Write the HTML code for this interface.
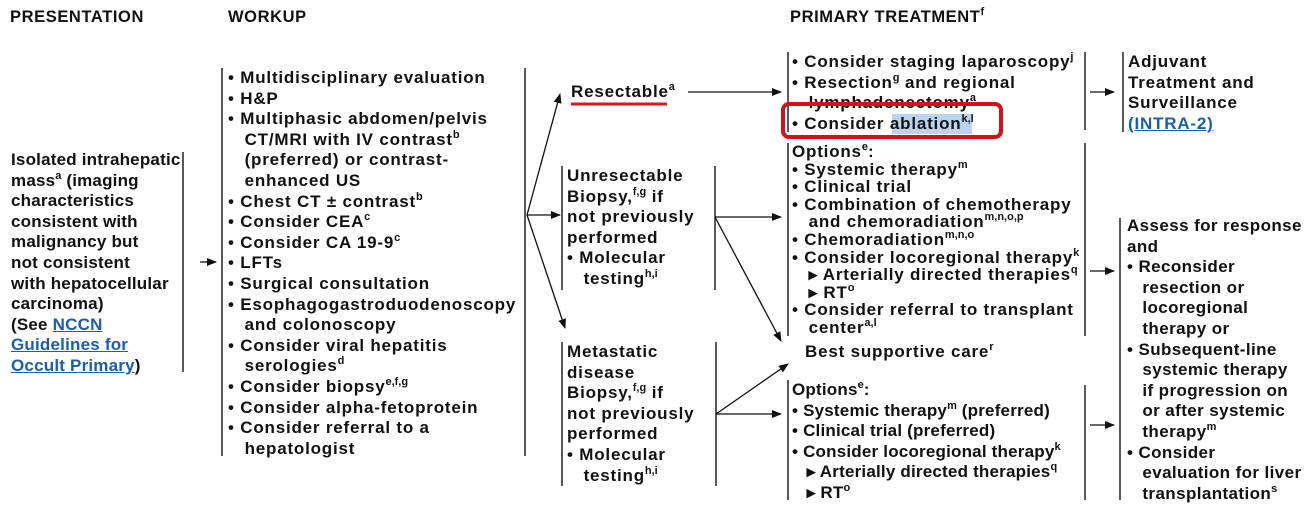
<!DOCTYPE html>
<html><head><meta charset="utf-8"><style>
body{margin:0;width:1316px;height:509px;background:#fff;position:relative;overflow:hidden;font-family:"Liberation Sans",Arial,sans-serif;font-weight:bold;color:#111}
.t{position:absolute;font-size:17px;line-height:20.6px;white-space:nowrap;letter-spacing:0.8px}
.h{position:absolute;font-size:16.5px;letter-spacing:0.6px;top:8px}
sup{font-size:11px;line-height:0;vertical-align:baseline;position:relative;top:-7px;letter-spacing:0}
a{color:#1a5fa8;text-decoration:underline}
svg{position:absolute;left:0;top:0}
</style></head><body>
<div class="h" style="left:10px">PRESENTATION</div>
<div class="h" style="left:228px">WORKUP</div>
<div class="h" style="left:790px">PRIMARY TREATMENT<sup>f</sup></div>

<div class="t" style="left:11px;top:150px;letter-spacing:0.2px">Isolated intrahepatic<br>mass<sup>a</sup> (imaging<br>characteristics<br>consistent with<br>malignancy but<br>not consistent<br>with hepatocellular<br>carcinoma)<br>(See <a>NCCN </a><br><a>Guidelines for </a><br><a>Occult Primary</a>)</div>

<div class="t" style="left:228px;top:68px">• Multidisciplinary evaluation<br>• H&amp;P<br>• Multiphasic abdomen/pelvis<br>&nbsp;&nbsp;&nbsp;CT/MRI with IV contrast<sup>b</sup><br>&nbsp;&nbsp;&nbsp;(preferred) or contrast-<br>&nbsp;&nbsp;&nbsp;enhanced US<br>• Chest CT ± contrast<sup>b</sup><br>• Consider CEA<sup>c</sup><br>• Consider CA 19-9<sup>c</sup><br>• LFTs<br>• Surgical consultation<br>• Esophagogastroduodenoscopy<br>&nbsp;&nbsp;&nbsp;and colonoscopy<br>• Consider viral hepatitis<br>&nbsp;&nbsp;&nbsp;serologies<sup>d</sup><br>• Consider biopsy<sup>e,f,g</sup><br>• Consider alpha-fetoprotein<br>• Consider referral to a<br>&nbsp;&nbsp;&nbsp;hepatologist</div>

<div class="t" style="left:571px;top:82px">Resectable<sup>a</sup></div>
<div class="t" style="left:567px;top:166px">Unresectable<br>Biopsy,<sup>f,g</sup> if<br>not previously<br>performed<br>• Molecular<br>&nbsp;&nbsp;&nbsp;testing<sup>h,i</sup></div>
<div class="t" style="left:567px;top:342px">Metastatic<br>disease<br>Biopsy,<sup>f,g</sup> if<br>not previously<br>performed<br>• Molecular<br>&nbsp;&nbsp;&nbsp;testing<sup>h,i</sup></div>

<div style="position:absolute;left:892px;top:114px;width:80px;height:20px;background:#b9d4ee"></div>
<div class="t" style="left:792px;top:52px">• Consider staging laparoscopy<sup>j</sup><br>• Resection<sup>g</sup> and regional<br>&nbsp;&nbsp;&nbsp;lymphadenectomy<sup>a</sup><br>• Consider ablation<sup>k,l</sup></div>

<div class="t" style="left:792px;top:143px;line-height:17.6px">Options<sup>e</sup>:<br>• Systemic therapy<sup>m</sup><br>• Clinical trial<br>• Combination of chemotherapy<br>&nbsp;&nbsp;&nbsp;and chemoradiation<sup>m,n,o,p</sup><br>• Chemoradiation<sup>m,n,o</sup><br>• Consider locoregional therapy<sup>k</sup><br>&nbsp;&nbsp;&nbsp;▸ Arterially directed therapies<sup>q</sup><br>&nbsp;&nbsp;&nbsp;▸ RT<sup>o</sup><br>• Consider referral to transplant<br>&nbsp;&nbsp;&nbsp;center<sup>a,l</sup></div>
<div class="t" style="left:805px;top:342px">Best supportive care<sup>r</sup></div>
<div class="t" style="left:792px;top:380px;letter-spacing:0.2px">Options<sup>e</sup>:<br>• Systemic therapy<sup>m</sup> (preferred)<br>• Clinical trial (preferred)<br>• Consider locoregional therapy<sup>k</sup><br>&nbsp;&nbsp;&nbsp;▸ Arterially directed therapies<sup>q</sup><br>&nbsp;&nbsp;&nbsp;▸ RT<sup>o</sup></div>

<div class="t" style="left:1128px;top:52px">Adjuvant<br>Treatment and<br>Surveillance<br><a>(INTRA-2)</a></div>
<div class="t" style="left:1127px;top:216px;letter-spacing:0.4px">Assess for response<br>and<br>• Reconsider<br>&nbsp;&nbsp;&nbsp;resection or<br>&nbsp;&nbsp;&nbsp;locoregional<br>&nbsp;&nbsp;&nbsp;therapy or<br>• Subsequent-line<br>&nbsp;&nbsp;&nbsp;systemic therapy<br>&nbsp;&nbsp;&nbsp;if progression on<br>&nbsp;&nbsp;&nbsp;or after systemic<br>&nbsp;&nbsp;&nbsp;therapy<sup>m</sup><br>• Consider<br>&nbsp;&nbsp;&nbsp;evaluation for liver<br>&nbsp;&nbsp;&nbsp;transplantation<sup>s</sup></div>

<svg width="1316" height="509">
<defs><marker id="a" markerWidth="10" markerHeight="8" refX="9" refY="4" orient="auto" markerUnits="userSpaceOnUse"><path d="M0,0 L10,4 L0,8 Z" fill="#111"/></marker></defs>
<g stroke="#222" stroke-width="1.5" fill="none">
<line x1="183" y1="152" x2="183" y2="372"/>
<line x1="222" y1="68" x2="222" y2="456"/>
<line x1="525" y1="68" x2="525" y2="456"/>
<line x1="562" y1="166" x2="562" y2="290"/>
<line x1="715" y1="166" x2="715" y2="290"/>
<line x1="562" y1="342" x2="562" y2="486"/>
<line x1="716" y1="342" x2="716" y2="486"/>
<line x1="788" y1="52" x2="788" y2="132"/>
<line x1="1085" y1="52" x2="1085" y2="130"/>
<line x1="1123" y1="52" x2="1123" y2="132"/>
<line x1="788" y1="143" x2="788" y2="336"/>
<line x1="1085" y1="143" x2="1085" y2="336"/>
<line x1="1120" y1="218" x2="1120" y2="500"/>
<line x1="788" y1="380" x2="788" y2="500"/>
<line x1="1085" y1="385" x2="1085" y2="500"/>
</g>
<g stroke="#111" stroke-width="1.3" marker-end="url(#a)">
<line x1="200" y1="262" x2="216" y2="262"/>
<line x1="527" y1="215" x2="560" y2="94"/>
<line x1="527" y1="215" x2="560" y2="215"/>
<line x1="527" y1="215" x2="565" y2="328"/>
<line x1="688" y1="92" x2="781" y2="92"/>
<line x1="715" y1="217" x2="781" y2="217"/>
<line x1="715" y1="217" x2="781" y2="341"/>
<line x1="716" y1="414" x2="788" y2="364"/>
<line x1="716" y1="414" x2="781" y2="414"/>
<line x1="1090" y1="92" x2="1114" y2="92"/>
<line x1="1090" y1="271" x2="1114" y2="271"/>
<line x1="1090" y1="425" x2="1114" y2="425"/>
</g>
<line x1="571" y1="104" x2="667" y2="104" stroke="#e0141e" stroke-width="3"/>
<rect x="783" y="104" width="218" height="33" rx="6" fill="none" stroke="#d4101a" stroke-width="4"/>
</svg>
</body></html>
